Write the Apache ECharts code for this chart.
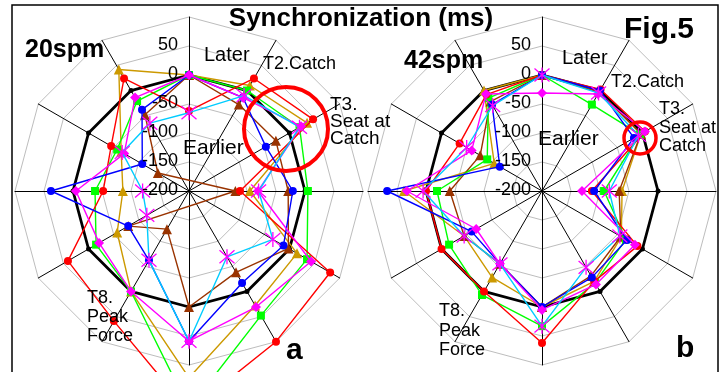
<!DOCTYPE html>
<html><head><meta charset="utf-8">
<script src="https://cdn.jsdelivr.net/npm/echarts/dist/echarts.min.js"></script>
<style>html,body{margin:0;padding:0;background:#fff}#c{width:728px;height:372px}</style>
</head><body><div id="c"></div>
<script>
// ---- data ----
const axisNames = ['T1','T2','T3','T4','T5','T6','T7','T8','T9','T10','T11','T12'];
const axisMin = -200, axisMax = 100;
const tickValues = [50, 0, -50, -100, -150, -200];
const tickLabels = ['50', '0', '-50', '-100', '-150', '-200'];

// 20 spm (panel a), values T1..T12 in ms
const a_black   = [0, 0, 0, 0, 0, 0, 0, 0, 0, 0, 0, 0];
const a_gold    = [0, 10, 35, -95, 15, 28, 122, 0, -57, -86, -65, 42];
const a_brown   = [0, -28, -27, -29, -2, -38, 0, -124, -79, -280, -138, -48];
const a_green   = [0, 0, 20, 5, 35, 48, 175, 0, -15, -38, -57, -21];
const a_red     = [-62, 24, 47, -112, 81, 100, 180, 59, 41, -52, -45, 24];
const a_blue    = [0, -14, -47, -21, -12, -17, 59, -62, -79, 38, -107, -38];
const a_magenta = [0, -14, 23, -81, 43, 31, 59, 0, -21, -5, -71, -14];
const a_cyan    = [-65, -10, 20, -80, -33, -69, 59, -62, -116, -120, -67, -65];

// 42 spm (panel b)
const b_black   = [0, 0, 0, 0, 0, 0, 0, 0, 0, 0, 0, 0];
const b_gold    = [0, -3, -3, -62, -42, -20, 0, -28, -45, 38, -105, 0];
const b_brown   = [0, -3, -3, -67, -43, -31, 0, -55, -45, -41, -77, -22];
const b_green   = [0, -28, -5, -93, -33, -17, 33, 7, -15, -19, -91, -15];
const b_red     = [0, 2, 5, -114, -10, -20, 62, 0, 0, 0, -36, -8];
const b_blue    = [0, 0, -17, -110, -31, -28, 0, -55, -60, 67, -116, -28];
const b_magenta = [-31, -7, 5, -131, -15, -14, 5, -55, -69, 33, -60, -7];
const b_cyan    = [0, -5, -8, -84, -45, -48, 33, -55, -45, 5, -50, -30];

// ---- layout / style ----
const FONT = '"Liberation Sans", Arial, sans-serif';
const panels = [
  {cx: 189, cy: 191, R: 174},
  {cx: 542, cy: 191, R: 174}
];
// clockwise order for ECharts (which lays indicators counter-clockwise)
const order = [0, 11, 10, 9, 8, 7, 6, 5, 4, 3, 2, 1];
const reorder = arr => order.map(i => arr[i]);

const STAR = 'path://M5,0L5,10M0.7,0.7L9.3,9.3M0.7,9.3L9.3,0.7';
const styles = {
  black:   {line: '#000000', sym: 'circle',   size: 5,  w: 2.8, fill: '#000000'},
  gold:    {line: '#CC9900', sym: 'triangle', size: 10, w: 1.4, fill: '#CC9900'},
  brown:   {line: '#993300', sym: 'triangle', size: 10, w: 1.4, fill: '#993300'},
  green:   {line: '#00FF00', sym: 'rect',     size: 8,  w: 1.4, fill: '#00FF00'},
  red:     {line: '#FF0000', sym: 'circle',   size: 8,  w: 1.4, fill: '#FF0000'},
  blue:    {line: '#0000FF', sym: 'circle',   size: 8,  w: 1.4, fill: '#0000FF'},
  magenta: {line: '#FF00FF', sym: 'diamond',  size: 10, w: 1.4, fill: '#FF00FF'},
  cyan:    {line: '#00CCFF', sym: STAR,       size: 15, w: 1.4, fill: 'none', border: '#FF00FF'}
};
const seriesData = [
  {a: a_black, b: b_black, s: 'black'},
  {a: a_gold, b: b_gold, s: 'gold'},
  {a: a_brown, b: b_brown, s: 'brown'},
  {a: a_green, b: b_green, s: 'green'},
  {a: a_red, b: b_red, s: 'red'},
  {a: a_blue, b: b_blue, s: 'blue'},
  {a: a_magenta, b: b_magenta, s: 'magenta'},
  {a: a_cyan, b: b_cyan, s: 'cyan'}
];

const indicator = order.map(i => ({name: axisNames[i], min: axisMin, max: axisMax}));
const radars = panels.map(p => ({
  center: [p.cx, p.cy], radius: p.R, startAngle: 90, shape: 'polygon', splitNumber: 6,
  indicator: indicator,
  axisName: {show: false},
  axisLine: {lineStyle: {color: '#000000', width: 1}},
  splitLine: {lineStyle: {color: '#BDBDBD', width: 1}},
  splitArea: {show: false}, axisTick: {show: false}, axisLabel: {show: false}
}));

const series = [];
seriesData.forEach((sd, k) => {
  ['a', 'b'].forEach((key, ri) => {
    const st = styles[sd.s];
    series.push({
      type: 'radar', radarIndex: ri, z: 2 + k, silent: true,
      symbol: st.sym, symbolSize: st.size,
      lineStyle: {color: st.line, width: st.w},
      itemStyle: st.border ? {color: 'rgba(0,0,0,0)', borderColor: st.border, borderWidth: 1.3}
                           : {color: st.fill, borderWidth: 0},
      data: [{value: reorder(sd[key])}]
    });
  });
});

function txt(text, x, y, size, opts) {
  opts = opts || {};
  return {
    type: 'text', x: x, y: y, z: 100, silent: true,
    style: {
      text: text, fill: '#000',
      font: (opts.bold ? 'bold ' : '') + size + 'px ' + FONT,
      align: opts.align || 'left', textAlign: opts.align || 'left',
      verticalAlign: 'middle', textVerticalAlign: 'middle',
      lineHeight: opts.lh || size
    }
  };
}

const graphics = [];
// tick labels along the top axis of each panel
panels.forEach(p => {
  tickValues.forEach((v, i) => {
    const y = p.cy - (v - axisMin) / (axisMax - axisMin) * p.R;
    graphics.push(txt(tickLabels[i], p.cx - 11, y - 1, 18, {align: 'right'}));
  });
});
graphics.push(
  txt('Synchronization (ms)', 361, 19, 26, {bold: true, align: 'center'}),
  txt('Fig.5', 624, 30, 30, {bold: true}),
  txt('20spm', 25, 50, 25, {bold: true}),
  txt('42spm', 404, 61, 25, {bold: true}),
  txt('Later', 204, 55, 20),
  txt('Later', 562, 58, 20),
  txt('Earlier', 183, 148, 21),
  txt('Earlier', 538, 139, 21),
  txt('T2.Catch', 263, 64, 18),
  txt('T2.Catch', 611, 82, 18),
  txt('T3.\nSeat at\nCatch', 330, 122, 19, {lh: 17}),
  txt('T3.\nSeat at\nCatch', 659, 128, 18, {lh: 18.5}),
  txt('T8.\nPeak\nForce', 87, 317, 18, {lh: 19}),
  txt('T8.\nPeak\nForce', 439, 331, 18, {lh: 19.5}),
  txt('a', 286, 351, 30, {bold: true}),
  txt('b', 676, 349, 30, {bold: true}),
  {type: 'rect', z: 99, silent: true, shape: {x: 12, y: 5, width: 706, height: 420},
   style: {fill: 'none', stroke: '#000', lineWidth: 1.5}},
  {type: 'circle', z: 101, silent: true, shape: {cx: 286, cy: 129, r: 42},
   style: {fill: 'none', stroke: '#FF0000', lineWidth: 4}},
  {type: 'circle', z: 101, silent: true, shape: {cx: 640, cy: 138, r: 16},
   style: {fill: 'none', stroke: '#FF0000', lineWidth: 3.5}}
);

const chart = echarts.init(document.getElementById('c'), null, {renderer: 'canvas'});
chart.setOption({
  animation: false,
  backgroundColor: '#fff',
  radar: radars,
  series: series,
  graphic: {elements: graphics}
});
</script></body></html>
